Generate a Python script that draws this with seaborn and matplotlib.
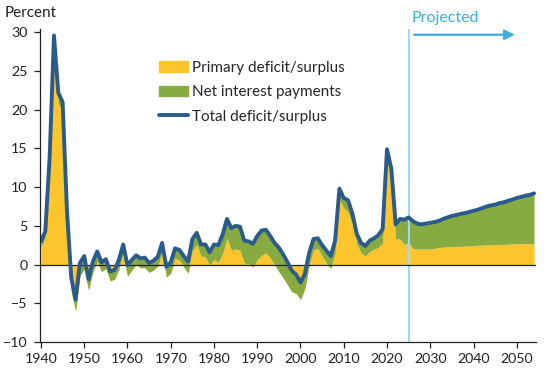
import numpy as np
import pandas as pd
import matplotlib
matplotlib.use("Agg")
import matplotlib.pyplot as plt
from matplotlib.patches import Patch
from matplotlib.lines import Line2D
import seaborn as sns

# fiscal years 1940-2054 (projections from 2025)
years = list(range(1940, 2055))

total = [
    3.0, 4.3, 13.9, 29.6, 22.2, 21.0, 7.0, -1.7, -4.5, 0.2,      # 1940s
    1.1, -1.9, 0.4, 1.7, 0.3, 0.7, -0.9, -0.7, 0.6, 2.6,         # 1950s
    -0.1, 0.6, 1.2, 0.8, 0.9, 0.2, 0.5, 1.0, 2.8, -0.3,          # 1960s
    0.3, 2.1, 1.9, 1.1, 0.4, 3.3, 4.1, 2.6, 2.6, 1.6,            # 1970s
    2.6, 2.5, 3.9, 5.9, 4.7, 5.0, 4.9, 3.1, 3.0, 2.7,            # 1980s
    3.7, 4.4, 4.5, 3.7, 2.8, 2.2, 1.3, 0.3, -0.8, -1.3,          # 1990s
    -2.3, -1.2, 1.5, 3.3, 3.4, 2.5, 1.8, 1.1, 3.1, 9.8,          # 2000s
    8.6, 8.3, 6.6, 4.0, 2.8, 2.4, 3.1, 3.4, 3.8, 4.6,            # 2010s
    14.9, 12.4, 5.2, 5.9, 5.8, 6.1, 5.6, 5.3, 5.2, 5.3,          # 2020s
    5.4, 5.5, 5.65, 5.9, 6.1, 6.3, 6.4, 6.55, 6.65, 6.8,         # 2030s
    6.95, 7.1, 7.3, 7.5, 7.65, 7.75, 7.95, 8.05, 8.25, 8.4,      # 2040s
    8.6, 8.75, 8.9, 9.0, 9.2,                                    # 2050s
]

interest = [
    0.9, 0.8, 0.7, 0.9, 1.3, 1.5, 1.8, 1.8, 1.5, 1.6,
    1.7, 1.4, 1.3, 1.3, 1.2, 1.2, 1.2, 1.2, 1.2, 1.2,
    1.4, 1.3, 1.2, 1.2, 1.3, 1.2, 1.2, 1.2, 1.2, 1.3,
    1.4, 1.3, 1.3, 1.4, 1.5, 1.5, 1.5, 1.5, 1.6, 1.7,
    1.9, 2.2, 2.5, 2.5, 2.8, 3.0, 3.0, 2.9, 2.9, 3.0,
    3.1, 3.2, 3.0, 2.8, 2.8, 3.1, 3.0, 2.9, 2.7, 2.4,
    2.2, 1.9, 1.6, 1.4, 1.3, 1.4, 1.6, 1.6, 1.6, 1.3,
    1.3, 1.5, 1.4, 1.3, 1.3, 1.3, 1.4, 1.4, 1.6, 1.8,
    1.6, 1.5, 1.9, 2.6, 3.2, 3.3, 3.5, 3.3, 3.2, 3.3,
    3.4, 3.4, 3.45, 3.65, 3.8, 4.0, 4.05, 4.2, 4.25, 4.4,
    4.5, 4.6, 4.8, 4.95, 5.1, 5.15, 5.35, 5.45, 5.6, 5.75,
    5.9, 6.05, 6.2, 6.3, 6.55,
]

df = pd.DataFrame({"year": years, "total": total, "interest": interest})
df["primary"] = df["total"] - df["interest"]

YELLOW = "#fcc52b"
GREEN = "#87ab40"
BLUE = "#2b5b8c"
LIGHTBLUE = "#a3d8ee"
ARROW = "#3aaedc"

sns.set_style("ticks")
plt.rcParams["font.family"] = ["Lato", "DejaVu Sans"]

fig = plt.figure(figsize=(5.5, 3.78), dpi=100)
ax = fig.add_axes([40 / 550, 36 / 378, 496 / 550, 312.7 / 378])

ax.fill_between(df["year"], 0, df["primary"], color=YELLOW, lw=0)
ax.fill_between(df["year"], df["primary"], df["total"], color=GREEN, lw=0)
ax.axhline(0, color="#222222", lw=0.9)
sns.lineplot(data=df, x="year", y="total", ax=ax, color=BLUE, lw=2.8)

ax.axvline(2025, color=LIGHTBLUE, lw=1.5, zorder=1)
ax.annotate("", xy=(2050.2, 29.7), xytext=(2025.6, 29.7),
            arrowprops=dict(arrowstyle="-|>,head_length=0.6,head_width=0.3",
                            color=ARROW, lw=1.6), annotation_clip=False)
ax.text(2025.6, 31.8, "Projected", color=ARROW, fontsize=11.5,
        va="center", ha="left", clip_on=False)

ax.set_xlim(1939.77, 2054.45)
ax.set_ylim(-10, 30.4)
ax.set_xticks(range(1940, 2051, 10))
ax.set_yticks(range(-10, 31, 5))
ax.set_xlabel("")
ax.set_ylabel("")
ax.tick_params(axis="both", labelsize=10.2, colors="#222222", width=0.9,
               length=4, direction="out")
ax.tick_params(axis="x", pad=4)
ax.tick_params(axis="y", pad=5)
for s in ["top", "right"]:
    ax.spines[s].set_visible(False)
for s in ["left", "bottom"]:
    ax.spines[s].set_color("#222222")
    ax.spines[s].set_linewidth(0.9)

fig.text(5 / 550, 1 - 13 / 378, "Percent", fontsize=11, color="#222222",
         ha="left", va="center")

handles = [
    Patch(color=YELLOW, label="Primary deficit/surplus"),
    Patch(color=GREEN, label="Net interest payments"),
    Line2D([0], [0], color=BLUE, lw=2.8, label="Total deficit/surplus"),
]
fig.legend(handles=handles, loc="upper left",
           bbox_to_anchor=(159 / 550, 1 - 61 / 378), frameon=False,
           fontsize=11, handlelength=1.9, handletextpad=0.25,
           labelspacing=0.68, borderpad=0, borderaxespad=0)

fig.savefig("out.png", dpi=100)
